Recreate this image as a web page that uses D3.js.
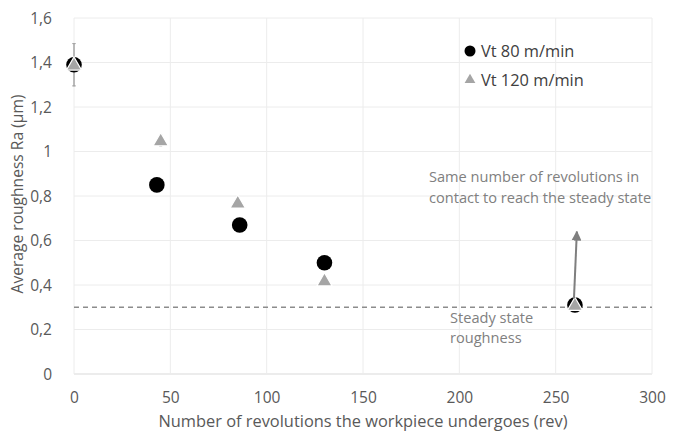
<!DOCTYPE html>
<html>
<head>
<meta charset="utf-8">
<script src="https://cdn.jsdelivr.net/npm/d3@7"></script>
<style>
  body { margin: 0; background: #fff; }
  text { font-family: "Open Sans", Lato, sans-serif; fill: #595959; }
</style>
</head>
<body>
<div id="chart"></div>
<script>
// series
const revs80 = [0, 43, 86, 130, 260];
const ra80 = [1.39, 0.85, 0.67, 0.50, 0.31];
const err80 = [0.095, 0.02, 0.015, 0.01, 0.01];

const revs120 = [0, 45, 85, 130, 260];
const ra120 = [1.39, 1.05, 0.77, 0.42, 0.31];
const err120 = [0.095, 0.025, 0.01, 0.01, 0.01];

const xTicks = [0, 50, 100, 150, 200, 250, 300];
const yTicks = [0, 0.2, 0.4, 0.6, 0.8, 1, 1.2, 1.4, 1.6];
const steadyLevel = 0.30;
const seriesNames = ["Vt 80 m/min", "Vt 120 m/min"];

const width = 682, height = 435;
const margin = { top: 18, right: 30, bottom: 61, left: 74 };

const svg = d3.select("#chart").append("svg")
  .attr("width", width)
  .attr("height", height);

const x = d3.scaleLinear().domain([0, 300]).range([margin.left, width - margin.right]);
const y = d3.scaleLinear().domain([0, 1.6]).range([height - margin.bottom, margin.top]);

const fmt = d => d3.format("~g")(d).replace(".", ",");

// grid
svg.append("g").selectAll("line.h")
  .data(yTicks).enter().append("line")
  .attr("x1", x(0)).attr("x2", x(300))
  .attr("y1", d => y(d)).attr("y2", d => y(d))
  .attr("stroke", d => d === 0 ? "#d9d9d9" : "#ececec").attr("stroke-width", 1);
svg.append("g").selectAll("line.v")
  .data(xTicks).enter().append("line")
  .attr("y1", y(0)).attr("y2", y(1.6))
  .attr("x1", d => x(d)).attr("x2", d => x(d))
  .attr("stroke", "#ececec").attr("stroke-width", 1);

// axes (labels only)
const yAxis = svg.append("g")
  .attr("transform", `translate(${margin.left - 19},0)`)
  .call(d3.axisLeft(y).tickValues(yTicks).tickFormat(fmt).tickSize(0));
yAxis.select(".domain").remove();
yAxis.selectAll("text").attr("font-size", 15.5).attr("dy", "0.35em");

const xAxis = svg.append("g")
  .attr("transform", `translate(0,${y(0) + 15})`)
  .call(d3.axisBottom(x).tickValues(xTicks).tickFormat(d3.format("d")).tickSize(0));
xAxis.select(".domain").remove();
xAxis.selectAll("text").attr("font-size", 15.5);

// axis titles
svg.append("text")
  .attr("x", 363).attr("y", 427)
  .attr("text-anchor", "middle").attr("font-size", 16.4)
  .text("Number of revolutions the workpiece undergoes (rev)");
svg.append("text")
  .attr("transform", `translate(23,194) rotate(-90)`)
  .attr("text-anchor", "middle").attr("font-size", 15.6)
  .text("Average roughness Ra (µm)");

// steady state dashed line
svg.append("line")
  .attr("x1", x(0)).attr("x2", x(300))
  .attr("y1", y(steadyLevel)).attr("y2", y(steadyLevel))
  .attr("stroke", "#8c8c8c").attr("stroke-width", 1.3)
  .attr("stroke-dasharray", "5,4");

// error bars
function errorBars(xs, ys, es, color) {
  const g = svg.append("g");
  xs.forEach((d, i) => {
    if (es[i] < 0.02) return;
    g.append("line")
      .attr("x1", x(d)).attr("x2", x(d))
      .attr("y1", y(ys[i] - es[i])).attr("y2", y(ys[i] + es[i]))
      .attr("stroke", color).attr("stroke-width", 1);
    [ys[i] - es[i], ys[i] + es[i]].forEach(v => {
      g.append("line")
        .attr("x1", x(d) - 1.5).attr("x2", x(d) + 1.5)
        .attr("y1", y(v)).attr("y2", y(v))
        .attr("stroke", color).attr("stroke-width", 1);
    });
  });
}
errorBars(revs80, ra80, err80, "#a6a6a6");
errorBars(revs120, ra120, err120, "#a6a6a6");

// markers
const tri = d3.symbol().type(d3.symbolTriangle).size(100);
svg.append("g").selectAll("circle")
  .data(revs80).enter().append("circle")
  .attr("cx", d => x(d)).attr("cy", (d, i) => y(ra80[i]))
  .attr("r", 7.8).attr("fill", "#000");
svg.append("g").selectAll("path")
  .data(revs120).enter().append("path")
  .attr("d", tri)
  .attr("transform", (d, i) => `translate(${x(d)},${y(ra120[i]) + 1})`)
  .attr("fill", "#a5a5a5")
  .attr("stroke", "#fff").attr("stroke-width", 1.2);

// legend
const legend = svg.append("g");
legend.append("circle").attr("cx", 470).attr("cy", 51).attr("r", 5.5).attr("fill", "#000");
legend.append("path").attr("d", d3.symbol().type(d3.symbolTriangle).size(50))
  .attr("transform", "translate(470,80)").attr("fill", "#a5a5a5");
legend.selectAll("text")
  .data(seriesNames).enter().append("text")
  .attr("x", 481).attr("y", (d, i) => 57 + i * 29)
  .attr("font-size", 16.4)
  .style("fill", "#404040")
  .text(d => d);

// arrow
svg.append("defs").append("marker")
  .attr("id", "ah").attr("viewBox", "0 0 10 10")
  .attr("refX", 9).attr("refY", 5)
  .attr("markerWidth", 5).attr("markerHeight", 5)
  .attr("orient", "auto")
  .append("path").attr("d", "M0,0 L10,5 L0,10 Z").attr("fill", "#7f7f7f");
svg.append("line")
  .attr("x1", x(259.5)).attr("y1", y(0.34))
  .attr("x2", x(261)).attr("y2", y(0.64))
  .attr("stroke", "#7f7f7f").attr("stroke-width", 2)
  .attr("marker-end", "url(#ah)");

// annotations
const note1 = ["Same number of revolutions in", "contact to reach the steady state"];
svg.append("g").selectAll("text")
  .data(note1).enter().append("text")
  .attr("x", 429).attr("y", (d, i) => 182 + i * 21)
  .attr("font-size", 14.6).style("fill", "#808080")
  .text(d => d);
const note2 = ["Steady state", "roughness"];
svg.append("g").selectAll("text")
  .data(note2).enter().append("text")
  .attr("x", 450).attr("y", (d, i) => 323 + i * 19.5)
  .attr("font-size", 14.6).style("fill", "#808080")
  .text(d => d);
</script>
</body>
</html>
